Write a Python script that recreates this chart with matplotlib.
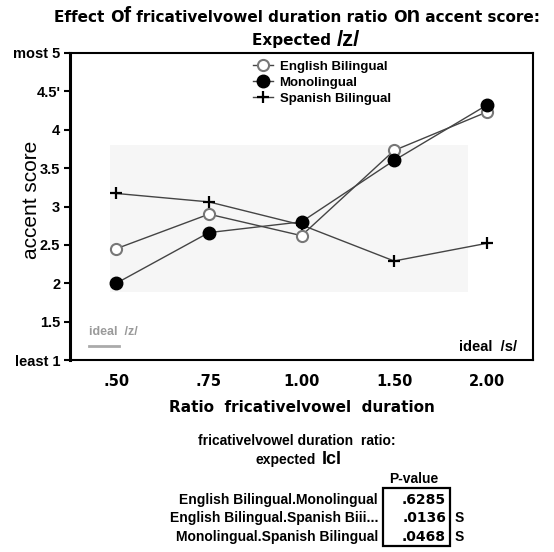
import matplotlib
matplotlib.use('Agg')
import matplotlib.pyplot as plt
from matplotlib.patches import Rectangle
from matplotlib.offsetbox import TextArea, HPacker, AnchoredOffsetbox

# ---- data ----
ratios = ['.50', '.75', '1.00', '1.50', '2.00']
english_bil = [2.45, 2.90, 2.62, 3.73, 4.23]
monolingual = [2.00, 2.66, 2.80, 3.60, 4.32]
spanish_bil = [3.17, 3.06, 2.76, 2.29, 2.52]

ytick_vals = [1, 1.5, 2, 2.5, 3, 3.5, 4, 4.5, 5]
ytick_labels = ['least 1', '1.5', '2', '2.5', '3', '3.5', '4', "4.5'", 'most 5']

pairs = ['English Bilingual.Monolingual',
         'English Bilingual.Spanish Biii...',
         'Monolingual.Spanish Bilingual']
pvalues = ['.6285', '.0136', '.0468']
signif = ['', 'S', 'S']

W, H = 554, 552
fig = plt.figure(figsize=(W / 100, H / 100), dpi=100, facecolor='white')


def fx(px):
    return px / W


def fy(py):
    return 1 - py / H


SANS = 'Liberation Sans'
WIDE = 'DejaVu Sans'

ax = fig.add_axes([fx(70), fy(360), fx(533) - fx(70), fy(53) - fy(360)])

# faint grey scan patch behind the lines
ax.add_patch(Rectangle((0.086, 0.22), 0.774, 0.48, transform=ax.transAxes,
                       facecolor='#f6f6f6', edgecolor='none', zorder=0))

x = range(len(ratios))
line_kw = dict(color='#444444', linewidth=1.0)
ax.plot(x, spanish_bil, marker='+', markersize=9, markeredgewidth=1.6,
        markeredgecolor='black', label='Spanish Bilingual', zorder=3, **line_kw)
ax.plot(x, english_bil, marker='o', markersize=8, markerfacecolor='white',
        markeredgecolor='#777777', markeredgewidth=1.5,
        label='English Bilingual', zorder=4, **line_kw)
ax.plot(x, monolingual, marker='o', markersize=9, markerfacecolor='black',
        markeredgecolor='black', label='Monolingual', zorder=5, **line_kw)

ax.set_xlim(-0.5, 4.5)
ax.set_ylim(1, 5)
ax.set_xticks(list(x))
ax.set_xticklabels(ratios, fontfamily=WIDE, fontweight='bold', fontsize=10.5)
ax.tick_params(axis='x', length=0, pad=10)
ax.set_yticks(ytick_vals)
ax.set_yticklabels(ytick_labels, fontfamily=SANS, fontweight='bold', fontsize=10.5)
ax.tick_params(axis='y', length=4, width=1.5, pad=3, direction='out')

for side in ['top', 'right', 'bottom']:
    ax.spines[side].set_linewidth(1.5)
ax.spines['left'].set_linewidth(2.2)

ax.set_xlabel('Ratio  fricativelvowel  duration', fontfamily=WIDE,
              fontweight='bold', fontsize=11, labelpad=8)
ax.set_ylabel('accent score', fontfamily=SANS, fontsize=15)
ax.yaxis.set_label_coords(-0.062, 0.52)

handles, labels = ax.get_legend_handles_labels()
order = [1, 2, 0]
leg = ax.legend([handles[i] for i in order], [labels[i] for i in order],
                loc='upper left', bbox_to_anchor=(0.37, 1.015), frameon=False,
                prop={'family': SANS, 'weight': 'bold', 'size': 9.5},
                handlelength=1.5, handletextpad=0.5, labelspacing=0.3)

# ideal markers inside the plot
ax.text(0.04, 0.08, 'ideal  /z/', transform=ax.transAxes, color='#9a9a9a',
        fontfamily=SANS, fontweight='bold', fontsize=9)
ax.plot([0.04, 0.105], [0.045, 0.045], transform=ax.transAxes,
        color='#aaaaaa', linewidth=2)
ax.text(0.965, 0.03, 'ideal  /s/', transform=ax.transAxes, ha='right',
        fontfamily=SANS, fontweight='bold', fontsize=10.5)

# ---- title with larger "of" / "on" ----
small = dict(fontfamily=WIDE, fontweight='bold', fontsize=11)
big = dict(fontfamily=SANS, fontweight='bold', fontsize=16)
parts = [('Effect ', small), ('of', big), (' fricativelvowel duration ratio ', small),
         ('on', big), (' accent score:', small)]
boxes = [TextArea(t, textprops=p) for t, p in parts]
row = HPacker(children=boxes, align='baseline', pad=0, sep=0)
title = AnchoredOffsetbox(loc='center', child=row, frameon=False,
                          bbox_to_anchor=(fx(297), fy(17)),
                          bbox_transform=fig.transFigure, borderpad=0, pad=0)
fig.add_artist(title)
parts2 = [('Expected ', small), ('/z/', big)]
row2 = HPacker(children=[TextArea(t, textprops=p) for t, p in parts2],
               align='baseline', pad=0, sep=0)
title2 = AnchoredOffsetbox(loc='center', child=row2, frameon=False,
                           bbox_to_anchor=(fx(306), fy(40)),
                           bbox_transform=fig.transFigure, borderpad=0, pad=0)
fig.add_artist(title2)

# ---- p-value table below ----
tkw = dict(fontfamily=SANS, fontweight='bold', fontsize=10)
fig.text(fx(297), fy(441), 'fricativelvowel duration  ratio:', ha='center', va='center', **tkw)
fig.text(fx(256), fy(460), 'expected', ha='left', va='center', **tkw)
fig.text(fx(322), fy(460), 'Icl', ha='left', va='center',
         fontfamily=SANS, fontweight='bold', fontsize=13)
fig.text(fx(414), fy(479), 'P-value', ha='center', va='center', **tkw)

row_y = [500, 518, 537]
for lab, pv, s, yy in zip(pairs, pvalues, signif, row_y):
    fig.text(fx(378), fy(yy), lab, ha='right', va='center', **tkw)
    fig.text(fx(446), fy(yy), pv, ha='right', va='center',
             fontfamily=WIDE, fontweight='bold', fontsize=10)
    if s:
        fig.text(fx(455), fy(yy), s, ha='left', va='center', **tkw)

fig.add_artist(Rectangle((fx(383), fy(546)), fx(450) - fx(383), fy(488) - fy(546),
                         transform=fig.transFigure, fill=False,
                         edgecolor='black', linewidth=1.6))

fig.savefig('out.png', dpi=100, facecolor='white')
